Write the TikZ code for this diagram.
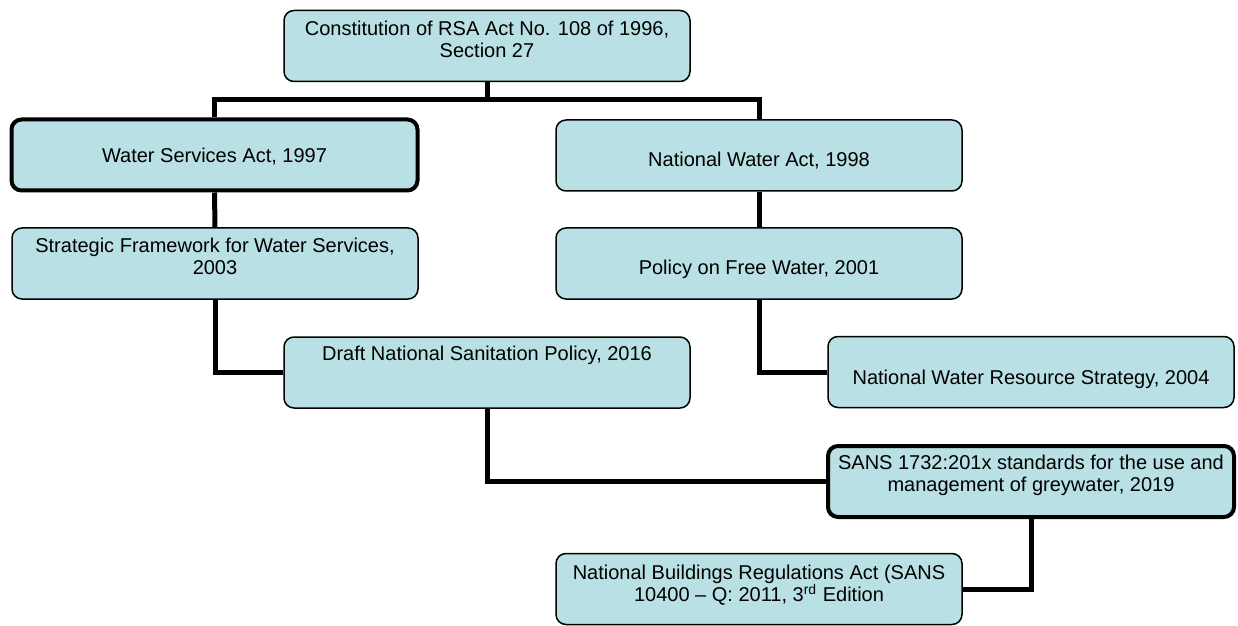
\documentclass[tikz,border=0pt]{standalone}
\usepackage{fontspec}
\setmainfont{Liberation Sans}
\usepackage{tikz}
\definecolor{boxfill}{RGB}{185,224,228}

\begin{document}
\begin{tikzpicture}[x=0.5pt,y=-0.5pt]
\tikzstyle{box} =[draw=black, fill=boxfill, rounded corners=5pt, line width=0.75pt, inner sep=0pt,
  minimum width=203pt, minimum height=35.5pt, align=center, font=\fontsize{10}{11.2}\selectfont]
\tikzstyle{heavy} =[line width=2pt]
\tikzstyle{link} =[line width=2.5pt]
\tikzset{lifted/.style={text height=#1, text depth=0pt}}

\useasboundingbox (0,0) rectangle (1238,626);

\node[box](constit) at (487,46) {Constitution of RSA Act No. 108 of 1996,\\Section 27\\[-4.5pt]};
\node[box,heavy,lifted=7.2pt](wsa) at (214.5,155) {Water Services Act, 1997};
\node[box,lifted=10.7pt](nwa) at (759,155.5) {National Water Act, 1998};
\node[box](sfws) at (215,263.5) {Strategic Framework for Water Services,\\2003\\[-4pt]};
\node[box,lifted=10.7pt](pfw) at (759,263.5) {Policy on Free Water, 2001};
\node[box,text height=7.2pt,text depth=19.5pt](dnsp) at (487,372.5) {Draft National Sanitation Policy, 2016};
\node[box,lifted=12pt](nwrs) at (1031,372) {National Water Resource Strategy, 2004};
\node[box,heavy](sans) at (1031,481.5) {SANS 1732:201x standards for the use and\\management of greywater, 2019\\[-3pt]};
\node[box](nbra) at (759,589) {National Buildings Regulations Act (SANS\\10400 -- Q: 2011, 3\textsuperscript{rd} Edition\\[-5.5pt]};

\coordinate (split) at (487,100);
\draw[link] (constit.south) -- (split);
\draw[link] (wsa.north) |- (split) -| (nwa.north);
\draw[link] (wsa.south) -- (sfws.north);
\draw[link] (nwa.south) -- (pfw.north);
\draw[link] (sfws.south) |- (dnsp.west);
\draw[link] (pfw.south) |- (nwrs.west);
\draw[link] (dnsp.south) |- (sans.west);
\draw[link] (sans.south) |- (nbra.east);
\end{tikzpicture}
\end{document}
